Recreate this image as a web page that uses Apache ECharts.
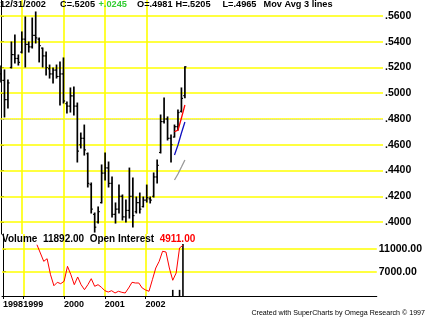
<!DOCTYPE html>
<html><head><meta charset="utf-8">
<script src="https://cdn.jsdelivr.net/npm/echarts@6/dist/echarts.min.js"></script>
<style>html,body{margin:0;padding:0;background:#fff}#c{width:425px;height:320px}</style>
</head><body><div id="c"></div>
<script>
// Monthly bars, Jul 1998 .. Dec 2002
const months = ['1998-07','1998-08','1998-09','1998-10','1998-11','1998-12',
 '1999-01','1999-02','1999-03','1999-04','1999-05','1999-06','1999-07','1999-08','1999-09','1999-10','1999-11','1999-12',
 '2000-01','2000-02','2000-03','2000-04','2000-05','2000-06','2000-07','2000-08','2000-09','2000-10','2000-11','2000-12',
 '2001-01','2001-02','2001-03','2001-04','2001-05','2001-06','2001-07','2001-08','2001-09','2001-10','2001-11','2001-12',
 '2002-01','2002-02','2002-03','2002-04','2002-05','2002-06','2002-07','2002-08','2002-09','2002-10','2002-11','2002-12'];
const opens = [.5150,.5100,.4950,.5200,.5300,.5270,.5320,.5420,.5380,.5360,.5450,.5420,.5350,.5290,.5190,.5150,.5180,.5130,.5150,.4920,.4900,.4980,.4900,.4600,.4650,.4530,.4290,.4060,.4000,.4150,.4380,.4420,.4300,.4060,.4100,.4200,.4040,.4090,.4200,.4080,.4150,.4120,.4170,.4180,.4200,.4350,.4540,.4780,.4800,.4650,.4660,.4740,.4860,.4981];
const highs = [.5212,.5181,.5103,.5398,.5452,.5297,.5476,.5592,.5398,.5584,.5631,.5429,.5351,.5320,.5219,.5196,.5219,.5243,.5274,.4932,.5041,.5049,.4924,.4691,.4753,.4536,.4303,.4070,.4117,.4443,.4536,.4466,.4350,.4148,.4287,.4210,.4171,.4419,.4342,.4194,.4225,.4194,.4287,.4194,.4381,.4482,.4831,.4963,.4816,.4676,.4753,.4870,.5041,.5205];
const lows = [.5087,.4816,.4885,.5196,.5235,.5219,.5313,.5204,.5320,.5351,.5390,.5243,.5204,.5142,.5118,.5080,.5118,.4908,.4924,.4847,.4854,.4831,.4466,.4575,.4520,.4272,.4070,.3922,.3992,.4148,.4326,.4272,.4039,.3992,.4070,.4016,.4000,.4031,.3962,.4070,.4070,.4117,.4155,.4148,.4194,.4303,.4536,.4769,.4637,.4466,.4660,.4715,.4854,.4965];
const closes = [.5100,.4950,.5080,.5300,.5270,.5240,.5420,.5380,.5360,.5450,.5430,.5370,.5290,.5200,.5150,.5180,.5130,.5150,.4940,.4900,.4980,.4900,.4550,.4650,.4560,.4300,.4100,.3960,.4080,.4380,.4420,.4300,.4060,.4100,.4200,.4040,.4090,.4200,.4050,.4150,.4100,.4170,.4190,.4170,.4350,.4440,.4780,.4800,.4650,.4600,.4740,.4850,.4960,.5205];

// Moving averages (3 lines), shown only for the last bars
const maStart = 50;
const maRed = [.4701,.4713,.4808,.4909];
const maBlue = [.4520,.4598,.4691,.4777];
const maGray = [.4326,.4373,.4427,.4482];

// Open interest line and volume
const oiStart = 10;
const openInterest = [11750,10300,8830,9290,6470,4530,5130,4890,5310,7950,
 6470,4710,6070,4710,3830,4710,5770,4430,4710,4250,
 3650,3420,3650,3250,3550,3370,3250,4130,5130,5010,
 5010,4130,3780,3550,5590,7650,8830,10600,10470,7650,
 5490,6770,11180,11650];
const volumeIdx = [50,52,53];
const volumeVals = [3800,3800,11892];
const lastVolume = 11892.00, lastOI = 4911.00;

// Axes ticks
const priceTicks = [.40,.42,.44,.46,.48,.50,.52,.54,.56];
const volTicks = [7000,11000];
const yearTickIdx = [0,6,18,30,42];
const yearLabels = ['1998','1999','2000','2001','2002'];
const yearGridIdx = [6,18,30,42];
const refLevel = [.4812];

const n = closes.length;
const ohlc = months.map((m,i)=>[i, opens[i], highs[i], lows[i], closes[i]]);
const fmtP = v => v.toFixed(4).replace(/^0/, '');
const lastC = closes[n-1], chg = closes[n-1]-closes[n-2];
const font = '"Liberation Sans", Arial, sans-serif';

const xMin = -0.288, xMax = 110.09;
const yellow = '#ffff00';
const b10 = {fontFamily:font,fontSize:10,fontWeight:'bold',color:'#000'};
const b9 = {fontFamily:font,fontSize:9.2,fontWeight:'bold',color:'#000'};

const chart = echarts.init(document.getElementById('c'), null, {renderer:'canvas'});
chart.setOption({
  animation:false,
  backgroundColor:'#ffffff',
  textStyle:{fontFamily:font},
  title:[{
    left:0, top:0, padding:0,
    text:'{d|'+months[n-1].slice(5)+'/31/'+months[n-1].slice(0,4)+'}{c|C='+fmtP(lastC)+'}{g|+'+fmtP(chg)+'}{c|O='+fmtP(opens[n-1])+'}{h|H='+fmtP(highs[n-1])+'}{l|L='+fmtP(lows[n-1])+'}{a|Mov Avg 3 lines}',
    textStyle:{rich:{
      d:Object.assign({width:60},b9),
      c:Object.assign({width:38.5},b9),
      g:Object.assign({},b9,{width:38.5,color:'#33cc33'}),
      h:Object.assign({width:47},b9),
      l:Object.assign({width:41},b9),
      a:b9}}
  },{
    left:2, top:234, padding:0,
    text:'{a|Volume  '+lastVolume.toFixed(2)+'  Open Interest  }{r|'+lastOI.toFixed(2)+'}',
    textStyle:{rich:{a:b10,r:Object.assign({},b10,{color:'#ff0000'})}}
  },{
    right:0, top:310, padding:0,
    text:'Created with SuperCharts by Omega Research \u00a9 1997',
    textStyle:{fontFamily:font,fontSize:7.1,fontWeight:'normal',color:'#000'}
  }],
  grid:[
    {left:0, right:42, top:0, height:234},
    {left:0, right:42, top:234, height:62}
  ],
  xAxis:[
    {type:'value', gridIndex:0, min:xMin, max:xMax, show:false},
    {type:'value', gridIndex:1, min:xMin, max:xMax,
     axisLine:{show:true, onZero:false, lineStyle:{color:'#000',width:1}},
     axisTick:{show:true, length:3, customValues:yearTickIdx, lineStyle:{color:'#000'}},
     axisLabel:{customValues:yearTickIdx, align:'left', margin:4, showMinLabel:true, showMaxLabel:true, hideOverlap:false,
       fontFamily:font, fontSize:9, fontWeight:'bold', color:'#000',
       formatter:v=>yearLabels[yearTickIdx.indexOf(Math.round(v))]},
     splitLine:{show:false}}
  ],
  yAxis:[
    {type:'value', gridIndex:0, position:'right', min:.3907, max:.5724,
     axisLine:{show:true, lineStyle:{color:'#000',width:1}},
     axisTick:{show:true, length:3, customValues:priceTicks, lineStyle:{color:'#000'}},
     axisLabel:{customValues:priceTicks, margin:2, fontFamily:font, fontSize:10.5, fontWeight:'bold', color:'#000', formatter:fmtP},
     splitLine:{show:false}},
    {type:'value', gridIndex:1, position:'right', min:2719, max:13643,
     axisLine:{show:true, lineStyle:{color:'#000',width:1}},
     axisTick:{show:true, length:3, customValues:volTicks, lineStyle:{color:'#000'}},
     axisLabel:{customValues:volTicks, margin:2, fontFamily:font, fontSize:10.5, fontWeight:'bold', color:'#000', formatter:v=>v.toFixed(2)},
     splitLine:{show:false}}
  ],
  series:[
    {type:'line', xAxisIndex:0, yAxisIndex:0, data:[], z:1, silent:true,
     markLine:{symbol:'none', silent:true, label:{show:false}, animation:false,
       lineStyle:{color:yellow, type:'solid', width:1.6},
       data: priceTicks.map(v=>({yAxis:v})).concat(yearGridIdx.map(v=>({xAxis:v})))}},
    {type:'line', xAxisIndex:0, yAxisIndex:0, data:[], z:2, silent:true,
     markLine:{symbol:'none', silent:true, label:{show:false}, animation:false,
       lineStyle:{color:'#c8c8c8', type:'dotted', width:1},
       data: refLevel.map(v=>({yAxis:v}))}},
    {type:'line', xAxisIndex:1, yAxisIndex:1, data:[], z:1, silent:true,
     markLine:{symbol:'none', silent:true, label:{show:false}, animation:false,
       lineStyle:{color:yellow, type:'solid', width:1.6},
       data: volTicks.map(v=>({yAxis:v})).concat(yearGridIdx.map(v=>({xAxis:v})))}},
    {type:'custom', xAxisIndex:0, yAxisIndex:0, z:5, clip:true,
     data: ohlc,
     encode:{x:0, y:[1,2,3,4]},
     renderItem:(params, api)=>{
       const x = api.value(0);
       const o = api.coord([x, api.value(1)]);
       const h = api.coord([x, api.value(2)]);
       const l = api.coord([x, api.value(3)]);
       const c = api.coord([x, api.value(4)]);
       const st = {stroke:'#000', lineWidth:1.7};
       return {type:'group', children:[
         {type:'line', shape:{x1:h[0], y1:h[1]-0.5, x2:l[0], y2:l[1]+0.5}, style:st},
         {type:'line', shape:{x1:o[0]-1.6, y1:o[1], x2:o[0], y2:o[1]}, style:{stroke:'#000', lineWidth:1.2}},
         {type:'line', shape:{x1:c[0], y1:c[1], x2:c[0]+1.6, y2:c[1]}, style:{stroke:'#000', lineWidth:1.2}}
       ]};
     }},
    {type:'line', xAxisIndex:0, yAxisIndex:0, z:6, symbol:'none', data:maRed.map((v,k)=>[maStart+k, v]), lineStyle:{color:'#ff0000', width:1.3}},
    {type:'line', xAxisIndex:0, yAxisIndex:0, z:6, symbol:'none', data:maBlue.map((v,k)=>[maStart+k, v]), lineStyle:{color:'#1010c0', width:1.3}},
    {type:'line', xAxisIndex:0, yAxisIndex:0, z:6, symbol:'none', data:maGray.map((v,k)=>[maStart+k, v]), lineStyle:{color:'#999999', width:1.3}},
    {type:'bar', xAxisIndex:1, yAxisIndex:1, z:5, barWidth:1.6, itemStyle:{color:'#000'},
     data: volumeIdx.map((i,k)=>[i, volumeVals[k]])},
    {type:'line', xAxisIndex:1, yAxisIndex:1, z:6, symbol:'none', data:openInterest.map((v,k)=>[oiStart+k, v]), lineStyle:{color:'#ff0000', width:1}}
  ]
});
</script>
</body></html>
